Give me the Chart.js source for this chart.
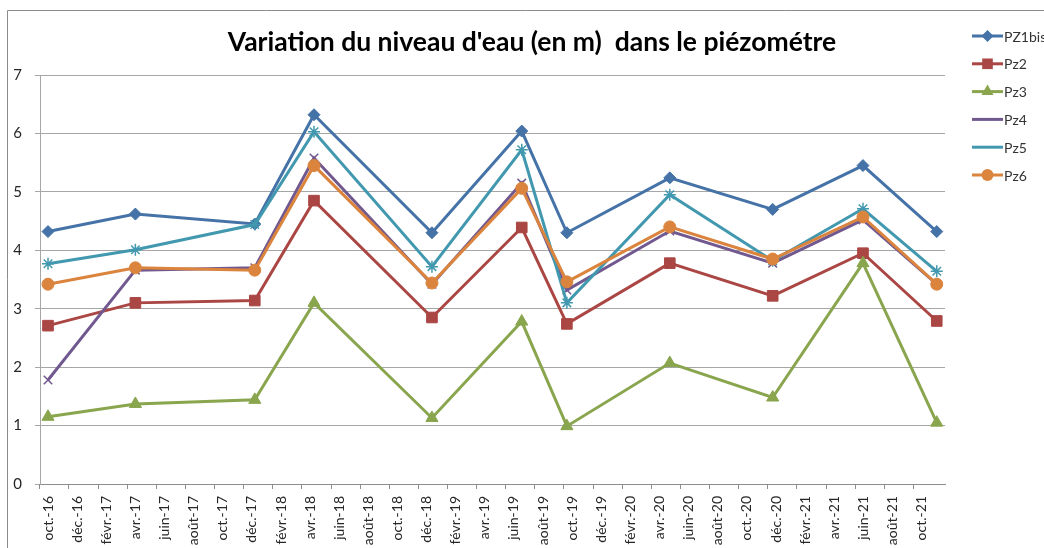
<!DOCTYPE html>
<html>
<head>
<meta charset="utf-8">
<script src="https://cdn.jsdelivr.net/npm/chart.js@4/dist/chart.umd.min.js"></script>
<style>
  html, body { margin: 0; padding: 0; background: #ffffff; }
  #wrap { width: 1044px; height: 548px; position: relative; }
</style>
</head>
<body>
<div id="wrap"><canvas id="chart" width="1044" height="548"></canvas></div>
<script>
// Dates des relevés (axe chronologique)
const dates = ['2016-10-01', '2017-04-01', '2017-12-07', '2018-04-09', '2018-12-12', '2019-06-17',
               '2019-09-20', '2020-04-22', '2020-11-24', '2021-05-30', '2021-11-02'];

// Niveaux d'eau (m) par piézomètre
const pz1bis = [4.32, 4.62, 4.45, 6.32, 4.30, 6.04, 4.30, 5.24, 4.70, 5.45, 4.32];
const pz2    = [2.71, 3.10, 3.14, 4.85, 2.85, 4.39, 2.74, 3.78, 3.22, 3.95, 2.79];
const pz3    = [1.15, 1.37, 1.44, 3.10, 1.13, 2.78, 0.99, 2.07, 1.48, 3.78, 1.05];
const pz4    = [1.78, 3.66, 3.70, 5.58, 3.42, 5.15, 3.32, 4.33, 3.78, 4.52, 3.42];
const pz5    = [3.77, 4.01, 4.44, 6.03, 3.72, 5.72, 3.10, 4.95, 3.82, 4.71, 3.64];
const pz6    = [3.42, 3.70, 3.66, 5.45, 3.44, 5.06, 3.46, 4.40, 3.85, 4.57, 3.42];

const seriesNames = ['PZ1bis', 'Pz2', 'Pz3', 'Pz4', 'Pz5', 'Pz6'];
const monthNames  = ['janv.', 'févr.', 'mars', 'avr.', 'mai', 'juin', 'juil.', 'août', 'sept.', 'oct.', 'nov.', 'déc.'];
const yTicks      = [0, 1, 2, 3, 4, 5, 6, 7];

const COLORS = ['#4572A7', '#AA4643', '#89A54E', '#71588F', '#4198AF', '#DB843D'];
const STYLES = [
    { pointStyle: 'rectRot',  radius: 6,   border: 1 },
    { pointStyle: 'rect',     radius: 7.5, border: 1 },
    { pointStyle: 'triangle', radius: 7,   border: 1 },
    { pointStyle: 'crossRot', radius: 6,   border: 1.5 },
    { pointStyle: 'star',     radius: 6,   border: 1.5 },
    { pointStyle: 'circle',   radius: 6,   border: 1 },
];

const FONT = 'Lato, "Liberation Sans", sans-serif';

// mois écoulés depuis oct. 2016 (fractionnaire)
function monthIndex(d) {
    const [y, m, day] = d.split('-').map(Number);
    return (y - 2016) * 12 + (m - 10) + (day - 1) / 30;
}

const xs = dates.map(monthIndex);
const allSeries = [pz1bis, pz2, pz3, pz4, pz5, pz6];

const datasets = allSeries.map((vals, i) => ({
    label: seriesNames[i],
    data: vals.map((v, j) => ({ x: xs[j], y: v })),
    borderColor: COLORS[i],
    backgroundColor: COLORS[i],
    borderWidth: 3,
    pointStyle: STYLES[i].pointStyle,
    pointRadius: STYLES[i].radius,
    pointBorderWidth: STYLES[i].border,
    pointBorderColor: COLORS[i],
    pointBackgroundColor: COLORS[i],
    tension: 0,
    order: 5 - i,   // Pz6 dessiné au-dessus, comme dans Excel
}));

// Titre, légende, cadre et graduations décalées (style Excel)
const decorPlugin = {
    id: 'decor',
    afterDraw(chart) {
        const { ctx } = chart;
        const xs = chart.scales.x;
        ctx.save();

        // cadre
        ctx.strokeStyle = '#8c8c8c';
        ctx.lineWidth = 1;
        ctx.beginPath();
        ctx.moveTo(7.5, 548);
        ctx.lineTo(7.5, 10.5);
        ctx.lineTo(1044, 10.5);
        ctx.stroke();

        // graduations de l'axe des dates, décalées d'un demi-mois à gauche
        const halfStep = xs.getPixelForValue(0.6) - xs.getPixelForValue(0);
        ctx.beginPath();
        xs.ticks.forEach(t => {
            const px = Math.round(xs.getPixelForValue(t.value) - halfStep) + 0.5;
            ctx.moveTo(px, xs.top);
            ctx.lineTo(px, xs.top + 5);
        });
        ctx.stroke();

        // titre
        ctx.fillStyle = '#000000';
        ctx.font = `bold 26.5px ${FONT}`;
        ctx.textAlign = 'center';
        ctx.textBaseline = 'middle';
        ctx.fillText("Variation du niveau d'eau (en m)  dans le piézométre", 532, 42);

        // légende
        ctx.font = `14px ${FONT}`;
        ctx.textAlign = 'left';
        seriesNames.forEach((name, i) => {
            const y = 36 + i * 27.8;
            ctx.strokeStyle = COLORS[i];
            ctx.lineWidth = 3;
            ctx.beginPath();
            ctx.moveTo(972, y);
            ctx.lineTo(1003, y);
            ctx.stroke();
            ctx.fillStyle = COLORS[i];
            ctx.lineWidth = STYLES[i].border;
            Chart.helpers.drawPoint(ctx, { pointStyle: STYLES[i].pointStyle, radius: STYLES[i].radius, rotation: 0 }, 987.5, y);
            ctx.fillStyle = '#333333';
            ctx.fillText(name, 1004, y + 1);
        });
        ctx.restore();
    }
};

new Chart(document.getElementById('chart').getContext('2d'), {
    type: 'line',
    data: { datasets },
    plugins: [decorPlugin],
    options: {
        responsive: false,
        animation: false,
        layout: { padding: { top: 75, right: 99, left: 0, bottom: 0 } },
        plugins: {
            legend:  { display: false },
            title:   { display: false },
            tooltip: { enabled: false }
        },
        scales: {
            x: {
                type: 'linear',
                min: -0.55,
                max: 61.6,
                afterBuildTicks(scale) {
                    const t = [];
                    for (let v = 0; v <= 60; v += 2) t.push({ value: v });
                    scale.ticks = t;
                },
                afterFit(scale) { scale.height = 64; },
                grid: { display: false },
                border: { color: '#8c8c8c', width: 1 },
                ticks: {
                    autoSkip: false,
                    minRotation: 90,
                    maxRotation: 90,
                    padding: 4,
                    color: '#262626',
                    font: { family: FONT, size: 14 },
                    callback(v) {
                        const k = 9 + v;
                        return monthNames[k % 12] + '-' + (16 + Math.floor(k / 12));
                    }
                }
            },
            y: {
                min: 0,
                max: 7,
                afterBuildTicks(scale) { scale.ticks = yTicks.map(v => ({ value: v })); },
                afterFit(scale) { scale.width = 40; },
                grid: { color: '#a6a6a6', tickLength: 5 },
                border: { color: '#a6a6a6', width: 1 },
                ticks: {
                    padding: 13,
                    color: '#262626',
                    font: { family: FONT, size: 15 }
                }
            }
        }
    }
});
</script>
</body>
</html>
